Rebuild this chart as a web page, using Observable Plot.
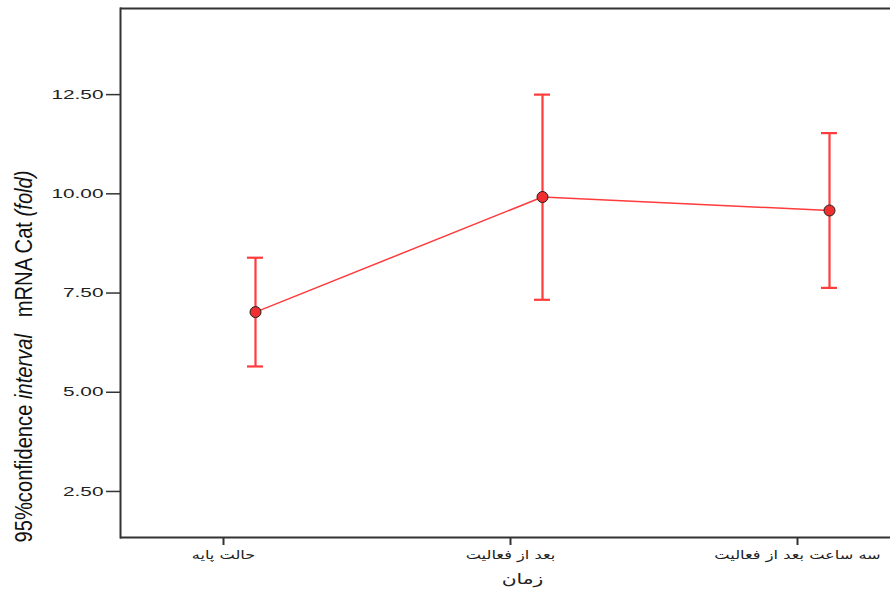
<!DOCTYPE html>
<html><head><meta charset="utf-8">
<script src="https://cdn.jsdelivr.net/npm/d3@7"></script>
<script src="https://cdn.jsdelivr.net/npm/@observablehq/plot@0.6"></script>
<style>body{margin:0;background:#fff}</style>
</head><body><div id="chart"></div>
<script>
const categories = ["حالت پایه", "بعد از فعالیت", "سه ساعت بعد از فعالیت"];
const means = [7.02, 9.92, 9.58];
const lower = [5.65, 7.33, 7.63];
const upper = [8.39, 12.50, 11.53];
const yTicks = [2.5, 5, 7.5, 10, 12.5];
const yDomain = [1.34, 14.67];
const yLabelParts = [["95%confidence ", "normal"], ["interval", "italic"], ["   mRNA Cat ", "normal"], ["(fold)", "italic"]];
const yLabel = yLabelParts.map(p => p[0]).join("");
const xLabel = "زمان";

const data = categories.map((c, i) => ({cat: c, mean: means[i], lo: lower[i], hi: upper[i]}));
const red = "#ff3b3b";
const off = 32;

const chart = Plot.plot({
  width: 890, height: 596,
  marginLeft: 120, marginRight: 0, marginTop: 8, marginBottom: 59,
  style: {background: "#fff", fontFamily: "Liberation Sans, Arial, sans-serif", color: "#222"},
  x: {type: "point", domain: categories, range: [222, 797], padding: 0},
  y: {domain: yDomain, ticks: yTicks},
  marks: [
    Plot.ruleY([yDomain[1]], {stroke: "#333", strokeWidth: 2}),
    Plot.ruleY([yDomain[0]], {stroke: "#333", strokeWidth: 2}),
    Plot.frame({anchor: "left", stroke: "#333", strokeWidth: 2}),
    Plot.axisY({ticks: yTicks, tickFormat: d => d.toFixed(2), tickSize: 14, tickPadding: 3, fontSize: 13, label: null, stroke: "#333", strokeWidth: 1.5}),
    Plot.axisX({tickSize: 8, tickPadding: 5, fontSize: 12, fontFamily: "DejaVu Sans", label: null, stroke: "#333", strokeWidth: 2}),
    Plot.line(data, {x: "cat", y: "mean", stroke: red, strokeWidth: 1.5, dx: off}),
    Plot.ruleX(data, {x: "cat", y1: "lo", y2: "hi", stroke: red, strokeWidth: 2.2, dx: off}),
    Plot.ruleY(data, {x1: "cat", x2: "cat", y: "lo", stroke: red, strokeWidth: 2.2, insetLeft: -8, insetRight: -8, dx: off}),
    Plot.ruleY(data, {x1: "cat", x2: "cat", y: "hi", stroke: red, strokeWidth: 2.2, insetLeft: -8, insetRight: -8, dx: off}),
    Plot.dot(data, {x: "cat", y: "mean", r: 5.5, fill: "#f03030", stroke: "#222", strokeWidth: 1, dx: off}),
    Plot.text([yLabel], {frameAnchor: "bottom-left", textAnchor: "start", rotate: -90, dx: -89, dy: 5, fontSize: 23, fontWeight: 500, fill: "#111"}),
    Plot.text([xLabel], {frameAnchor: "bottom", dx: 17, dy: 46, fontSize: 15, fontFamily: "DejaVu Sans", fill: "#222"})
  ]
});
document.getElementById("chart").appendChild(chart);

function stretch(sel, k) {
  sel.each(function() {
    const w = this.getComputedTextLength();
    d3.select(this).attr("textLength", w * k).attr("lengthAdjust", "spacingAndGlyphs");
  });
}
const svg = d3.select(chart);
const lab = svg.selectAll("text").filter(function() { return this.textContent === yLabel; });
lab.text(null);
yLabelParts.forEach(([t, s]) => lab.append("tspan").attr("font-style", s).text(t));
lab.attr("textLength", 372).attr("lengthAdjust", "spacingAndGlyphs").style("white-space", "pre");
stretch(svg.selectAll("[aria-label='y-axis tick label'] text"), 1.6);
stretch(svg.selectAll("[aria-label='x-axis tick label'] text"), 1.35);
stretch(svg.selectAll("text").filter(function() { return this.textContent === xLabel; }), 1.35);
</script>
</body></html>
